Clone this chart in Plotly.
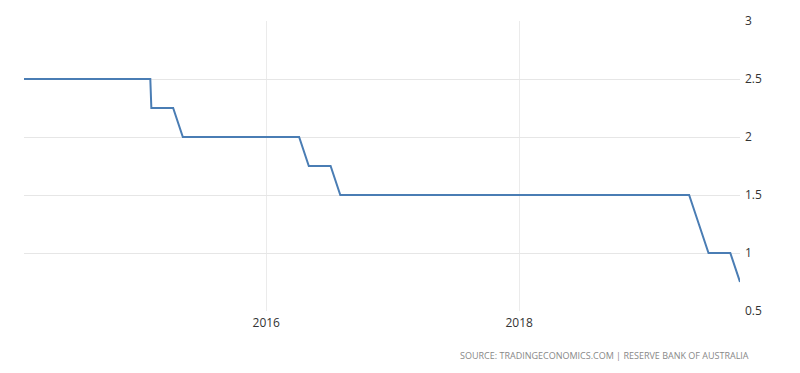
import plotly.graph_objects as go

dates = ["2014-01-31", "2015-01-31", "2015-02-03", "2015-04-07", "2015-05-05",
         "2016-04-05", "2016-05-03", "2016-07-05", "2016-08-02",
         "2019-05-07", "2019-06-04", "2019-07-02", "2019-09-03", "2019-10-01"]
rates = [2.5, 2.5, 2.25, 2.25, 2.0,
         2.0, 1.75, 1.75, 1.5,
         1.5, 1.25, 1.0, 1.0, 0.75]
x_ticks = ["2016-01-01", "2018-01-01"]
x_tick_labels = ["2016", "2018"]
y_ticks = [0.5, 1, 1.5, 2, 2.5, 3]
y_tick_labels = ["0.5", "1", "1.5", "2", "2.5", "3"]
source_text = "SOURCE: TRADINGECONOMICS.COM | RESERVE BANK OF AUSTRALIA"

fig = go.Figure()
fig.add_trace(go.Scatter(
    x=dates, y=rates, mode="lines",
    line=dict(color="#4a7db4", width=2),
    hoverinfo="x+y", showlegend=False,
))

fig.update_layout(
    width=792, height=365,
    margin=dict(l=16, r=60, t=13, b=62),
    paper_bgcolor="white", plot_bgcolor="white",
    font=dict(family="Open Sans, DejaVu Sans, sans-serif", color="#333333", size=12),
    xaxis=dict(
        range=[dates[0], dates[-1]], automargin=False,
        tickmode="array", tickvals=x_ticks, ticktext=x_tick_labels,
        showgrid=True, gridcolor="#ebebeb", gridwidth=1,
        zeroline=False, showline=False, ticks="", ticklabelstandoff=3,
        tickfont=dict(size=12, color="#333333"),
    ),
    yaxis=dict(
        range=[0.5, 3], side="right", automargin=False,
        tickmode="array", tickvals=y_ticks, ticktext=y_tick_labels,
        showgrid=True, gridcolor="#e6e6e6", gridwidth=1,
        zeroline=False, showline=False, ticks="", ticklabelstandoff=4,
        tickfont=dict(size=12, color="#333333"),
    ),
    annotations=[dict(
        text=source_text, xref="paper", yref="paper",
        x=1.0154, y=-0.152, xanchor="right", yanchor="middle",
        showarrow=False, font=dict(size=9, color="#888888"),
    )],
)

fig.write_html("out.html")
